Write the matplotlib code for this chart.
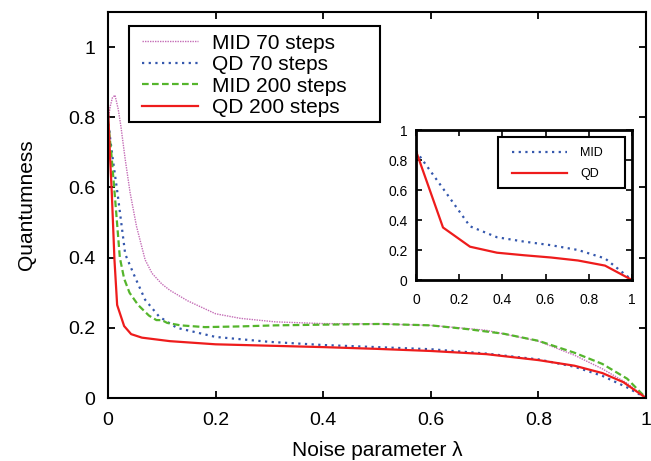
import numpy as np
import matplotlib
matplotlib.use("Agg")
import matplotlib.pyplot as plt
from matplotlib.ticker import FixedLocator
from matplotlib.patches import Rectangle

plt.rcParams["font.family"] = ["Liberation Sans", "DejaVu Sans"]

# main panel: quantumness vs noise parameter
mid70_x = [0.0, 0.004, 0.008, 0.013, 0.019, 0.024, 0.032, 0.041, 0.053, 0.069,
           0.082, 0.1, 0.115, 0.148, 0.2, 0.246, 0.311, 0.4, 0.507, 0.6, 0.703, 0.8,
           0.867, 0.919, 0.965, 1.0]
mid70_y = [0.79, 0.83, 0.855, 0.863, 0.823, 0.774, 0.68, 0.586, 0.489, 0.394,
           0.355, 0.325, 0.307, 0.277, 0.24, 0.227, 0.217, 0.212, 0.211, 0.207, 0.193, 0.162,
           0.122, 0.083, 0.042, 0.0]

qd70_x = [0.0, 0.004, 0.009, 0.018, 0.032, 0.05, 0.069, 0.095, 0.128, 0.2, 0.3, 0.4,
          0.5, 0.6, 0.7, 0.8, 0.867, 0.919, 0.965, 1.0]
qd70_y = [0.8, 0.74, 0.68, 0.58, 0.41, 0.345, 0.28, 0.232, 0.2, 0.174, 0.16, 0.151,
          0.145, 0.139, 0.127, 0.11, 0.089, 0.063, 0.03, 0.0]

mid200_x = [0.0, 0.006, 0.012, 0.022, 0.03, 0.04, 0.056, 0.076, 0.09, 0.1, 0.11,
            0.135, 0.18, 0.246, 0.311, 0.4, 0.507, 0.6, 0.67, 0.736, 0.8, 0.867,
            0.919, 0.965, 1.0]
mid200_y = [0.79, 0.7, 0.59, 0.4, 0.34, 0.3, 0.265, 0.235, 0.222, 0.222, 0.214,
            0.207, 0.202, 0.204, 0.207, 0.209, 0.211, 0.207, 0.196, 0.183, 0.163, 0.129,
            0.097, 0.055, 0.0]

qd200_x = [0.0, 0.004, 0.007, 0.012, 0.017, 0.03, 0.043, 0.063, 0.115, 0.2, 0.3, 0.4,
           0.5, 0.6, 0.703, 0.8, 0.867, 0.919, 0.958, 1.0]
qd200_y = [0.83, 0.68, 0.586, 0.394, 0.265, 0.205, 0.182, 0.172, 0.162, 0.153, 0.149,
           0.145, 0.14, 0.134, 0.125, 0.108, 0.092, 0.071, 0.045, 0.0]

# inset
inset_x = [0.0, 0.125, 0.25, 0.375, 0.5, 0.625, 0.75, 0.875, 1.0]
inset_mid = [0.86, 0.61, 0.358, 0.285, 0.256, 0.232, 0.2, 0.144, 0.0]
inset_qd = [0.86, 0.35, 0.222, 0.182, 0.165, 0.15, 0.13, 0.096, 0.0]

ticks = [0, 0.2, 0.4, 0.6, 0.8, 1]
tick_labels = ["0", "0.2", "0.4", "0.6", "0.8", "1"]

c_mid70 = "#c46cb6"
c_qd70 = "#3457ad"
c_mid200 = "#55b52c"
c_qd200 = "#ee1c1c"


def boxed_legend(ax, anchor, box, fontsize, handlelength, handletextpad, labelspacing, lw):
    # gnuplot style key: legend without frame, plain rectangle round it
    leg = ax.legend(loc="upper left", bbox_to_anchor=anchor, borderaxespad=0,
                    borderpad=0, fontsize=fontsize, frameon=False,
                    handlelength=handlelength, handletextpad=handletextpad,
                    labelspacing=labelspacing)
    ax.add_patch(Rectangle(box[:2], box[2], box[3], transform=ax.transAxes,
                           fill=False, edgecolor="black", lw=lw, zorder=5,
                           clip_on=False))
    return leg


fig = plt.figure(figsize=(6.51, 4.61), dpi=100)
ax = fig.add_axes([108 / 651, 1 - 398 / 461, 538 / 651, 386 / 461])

ax.plot(mid70_x, mid70_y, color=c_mid70, lw=1.0, linestyle=(0, (1, 0.8)), label="MID 70 steps")
ax.plot(qd70_x, qd70_y, color=c_qd70, lw=1.6, linestyle=(0, (1, 2)), label="QD 70 steps")
ax.plot(mid200_x, mid200_y, color=c_mid200, lw=1.6, linestyle=(0, (3, 1.5)), label="MID 200 steps")
ax.plot(qd200_x, qd200_y, color=c_qd200, lw=1.6, linestyle="-", label="QD 200 steps")

ax.set_xlim(0, 1)
ax.set_ylim(0, 1.1)
ax.xaxis.set_major_locator(FixedLocator(ticks))
ax.yaxis.set_major_locator(FixedLocator(ticks))
ax.set_xticklabels(tick_labels)
ax.set_yticklabels(tick_labels)
ax.tick_params(direction="in", length=5, width=1.3, top=True, right=True, labelsize=14)
ax.tick_params(axis="x", pad=10)
ax.tick_params(axis="y", pad=9)
for sp in ax.spines.values():
    sp.set_linewidth(1.5)
ax.set_xlabel("Noise parameter λ", fontsize=15, labelpad=9)
ax.set_ylabel("Quantumness", fontsize=15, labelpad=23)

boxed_legend(ax, (0.0632, 0.9437), (0.039, 0.715, 0.4665, 0.2487),
             15, 2.69, 0.67, 0.12, 1.5)

# inset
axi = fig.add_axes([416 / 651, 1 - 280 / 461, 216 / 651, 150 / 461])
axi.set_facecolor("white")
axi.plot(inset_x, inset_mid, color=c_qd70, lw=1.6, linestyle=(0, (1, 2)), label="MID")
axi.plot(inset_x, inset_qd, color=c_qd200, lw=1.6, linestyle="-", label="QD")
axi.set_xlim(0, 1)
axi.set_ylim(0, 1)
axi.xaxis.set_major_locator(FixedLocator(ticks))
axi.yaxis.set_major_locator(FixedLocator(ticks))
axi.set_xticklabels(tick_labels)
axi.set_yticklabels(tick_labels)
axi.tick_params(direction="in", length=4, width=1.2, top=True, right=True, labelsize=10)
axi.tick_params(axis="x", pad=9)
axi.tick_params(axis="y", pad=6)
for sp in axi.spines.values():
    sp.set_linewidth(2)

boxed_legend(axi, (0.444, 0.884), (0.3796, 0.613, 0.588, 0.34),
             9, 4.4, 1.04, 0.71, 1.5)

fig.savefig("out.png", dpi=100)
